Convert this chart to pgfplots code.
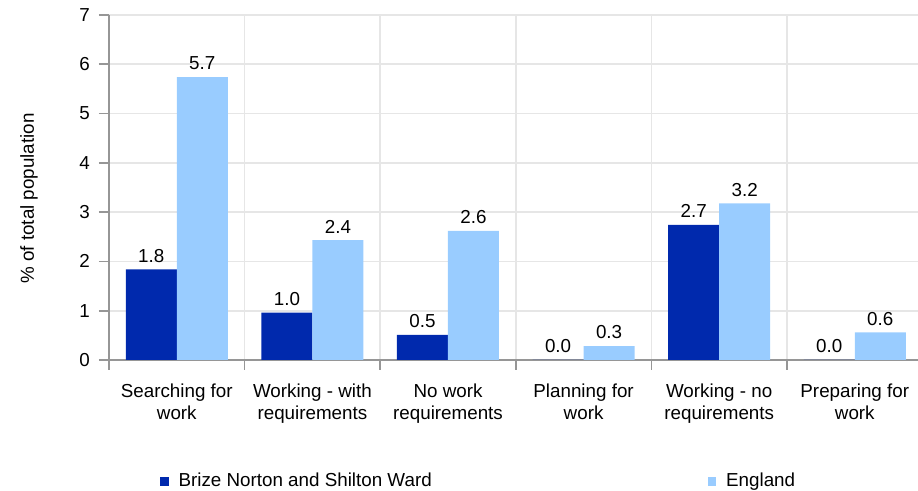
\documentclass[border=0pt]{standalone}
\usepackage{pgfplots}
\pgfplotsset{compat=1.18}
\usepackage{fontspec}
\setmainfont{Liberation Sans}
\definecolor{darkb}{RGB}{0,41,173}
\definecolor{lightb}{RGB}{153,204,255}
\definecolor{gridc}{RGB}{230,230,230}
\definecolor{axc}{RGB}{150,150,150}
\begin{document}
\begin{tikzpicture}
\useasboundingbox (-54.5pt,-65.5pt) rectangle (404.5pt,180pt);
\begin{axis}[
  scale only axis, width=406.8pt, height=172.5pt,
  font=\fontsize{9.4pt}{10.8pt}\selectfont,
  /pgf/number format/assume math mode=true,
  ybar=0pt, bar width=25.5pt,
  xmin=-0.5, xmax=5.5, ymin=0, ymax=7,
  ytick={0,1,...,7},
  xtick={0,1,2,3,4,5},
  xticklabels={Searching for\\work, Working - with\\requirements, No work\\requirements, Planning for\\work, Working - no\\requirements, Preparing for\\work},
  xticklabel style={align=center, yshift=-3.5pt},
  major x tick style={draw=none},
  minor xtick={-0.5,0.5,...,5.5},
  minor x tick style={axc, thick},
  minor tick length=5pt,
  major tick length=5pt,
  tick align=outside,
  xtick pos=bottom, ytick pos=left,
  y tick style={axc, thick},
  ymajorgrids, xminorgrids,
  grid style={gridc, line width=0.8pt},
  minor grid style={gridc, line width=0.8pt},
  axis x line*=bottom, axis y line*=left,
  axis line style={axc, line width=0.9pt, -},
  ylabel={\% of total population},
  ylabel style={yshift=14pt, xshift=-5.5pt},
  yticklabel style={xshift=-1pt},
  nodes near coords,
  nodes near coords style={font=\fontsize{9.4pt}{10.8pt}\selectfont, black, /pgf/number format/.cd, fixed, fixed zerofill, precision=1, assume math mode=true},
  legend columns=2,
  legend style={draw=none, fill=none, at={(0.055,-0.352)}, anchor=west, font=\fontsize{9.4pt}{10.8pt}\selectfont, /tikz/every even column/.append style={column sep=136pt}},
  legend image code/.code={\fill[#1] (0pt,-2.1pt) rectangle (4.2pt,2.1pt); \path (7.2pt,0pt);},
]
\addplot[fill=darkb, draw=none] coordinates {(0,1.84) (1,0.96) (2,0.51) (3,0.0) (4,2.74) (5,0.0)};
\addplot[fill=lightb, draw=none] coordinates {(0,5.74) (1,2.43) (2,2.62) (3,0.28) (4,3.18) (5,0.56)};
\legend{Brize Norton and Shilton Ward, England}
\end{axis}
\end{tikzpicture}
\end{document}
